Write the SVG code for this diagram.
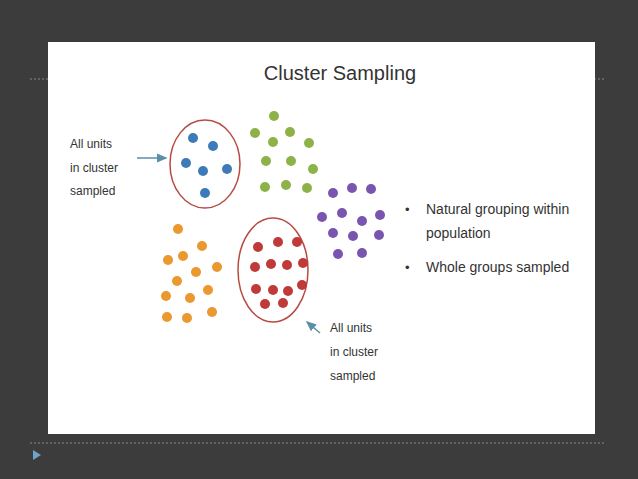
<svg xmlns="http://www.w3.org/2000/svg" width="638" height="479" viewBox="0 0 638 479">
<style>
text{font-family:"Liberation Sans","Open Sans",sans-serif;fill:#333}
.l{font-size:12px}
.b circle{fill:#3d7ab8}.g circle{fill:#8db348}.p circle{fill:#7a55b0}.o circle{fill:#eb982e}.r circle{fill:#c03a3a}
.ring{fill:none;stroke:#b84a44;stroke-width:1.5}
</style>
<defs><marker id="a" markerWidth="8" markerHeight="8" refX="6" refY="4" orient="auto"><path d="M0,1 L7,4 L0,7 Z" fill="#5a8fa8"/></marker></defs>
<rect width="638" height="479" fill="#3c3c3c"/>
<line x1="30" y1="79" x2="605" y2="79" stroke="#888" stroke-dasharray="2,2"/>
<rect x="48" y="42" width="547" height="392" fill="#fff"/>
<line x1="30" y1="443" x2="605" y2="443" stroke="#888" stroke-dasharray="2,2"/>
<path d="M33,450 L41,455 L33,460 Z" fill="#6fa3c8"/>
<text x="340" y="80" font-size="20" text-anchor="middle">Cluster Sampling</text>
<g id="blue" class="b"><ellipse class="ring" cx="205" cy="164" rx="35" ry="44"/>
<circle cx="193" cy="138" r="5"/><circle cx="213" cy="146" r="5"/><circle cx="186" cy="163" r="5"/><circle cx="203" cy="171" r="5"/><circle cx="227" cy="169" r="5"/><circle cx="205" cy="193" r="5"/></g>
<g id="green" class="g"><circle cx="274" cy="116" r="5"/><circle cx="255" cy="133" r="5"/><circle cx="290" cy="132" r="5"/><circle cx="273" cy="142" r="5"/><circle cx="309" cy="143" r="5"/><circle cx="266" cy="161" r="5"/><circle cx="291" cy="161" r="5"/><circle cx="313" cy="169" r="5"/><circle cx="265" cy="187" r="5"/><circle cx="286" cy="185" r="5"/><circle cx="307" cy="188" r="5"/></g>
<g id="purple" class="p"><circle cx="333" cy="193" r="5"/><circle cx="352" cy="188" r="5"/><circle cx="371" cy="189" r="5"/><circle cx="322" cy="217" r="5"/><circle cx="342" cy="213" r="5"/><circle cx="362" cy="221" r="5"/><circle cx="380" cy="215" r="5"/><circle cx="333" cy="233" r="5"/><circle cx="353" cy="236" r="5"/><circle cx="379" cy="235" r="5"/><circle cx="338" cy="254" r="5"/><circle cx="362" cy="253" r="5"/></g>
<g id="orange" class="o"><circle cx="178" cy="229" r="5"/><circle cx="202" cy="246" r="5"/><circle cx="183" cy="256" r="5"/><circle cx="168" cy="260" r="5"/><circle cx="217" cy="267" r="5"/><circle cx="196" cy="272" r="5"/><circle cx="177" cy="281" r="5"/><circle cx="208" cy="290" r="5"/><circle cx="166" cy="296" r="5"/><circle cx="190" cy="298" r="5"/><circle cx="212" cy="312" r="5"/><circle cx="167" cy="317" r="5"/><circle cx="187" cy="318" r="5"/></g>
<g id="red" class="r"><ellipse class="ring" cx="273" cy="270" rx="35" ry="52"/>
<circle cx="258" cy="247" r="5"/><circle cx="278" cy="242" r="5"/><circle cx="297" cy="242" r="5"/><circle cx="255" cy="267" r="5"/><circle cx="271" cy="264" r="5"/><circle cx="287" cy="265" r="5"/><circle cx="303" cy="263" r="5"/><circle cx="256" cy="289" r="5"/><circle cx="273" cy="290" r="5"/><circle cx="288" cy="291" r="5"/><circle cx="302" cy="285" r="5"/><circle cx="265" cy="304" r="5"/><circle cx="283" cy="303" r="5"/></g>
<g id="label1"><text class="l" x="70" y="148">All units</text><text class="l" x="70" y="172">in cluster</text><text class="l" x="70" y="195">sampled</text></g>
<g id="label2"><text class="l" x="330" y="332">All units</text><text class="l" x="330" y="356">in cluster</text><text class="l" x="330" y="380">sampled</text></g>
<g id="bullets"><text x="405" y="214" font-size="13">•</text><text x="426" y="214" font-size="14">Natural grouping within</text><text x="426" y="238" font-size="14">population</text>
<text x="405" y="272" font-size="13">•</text><text x="426" y="272" font-size="14">Whole groups sampled</text></g>
<g id="connectors" stroke="#5a8fa8" stroke-width="1.5" marker-end="url(#a)"><line x1="137" y1="158" x2="166" y2="158"/><line x1="320" y1="333" x2="307" y2="322"/></g>
</svg>
